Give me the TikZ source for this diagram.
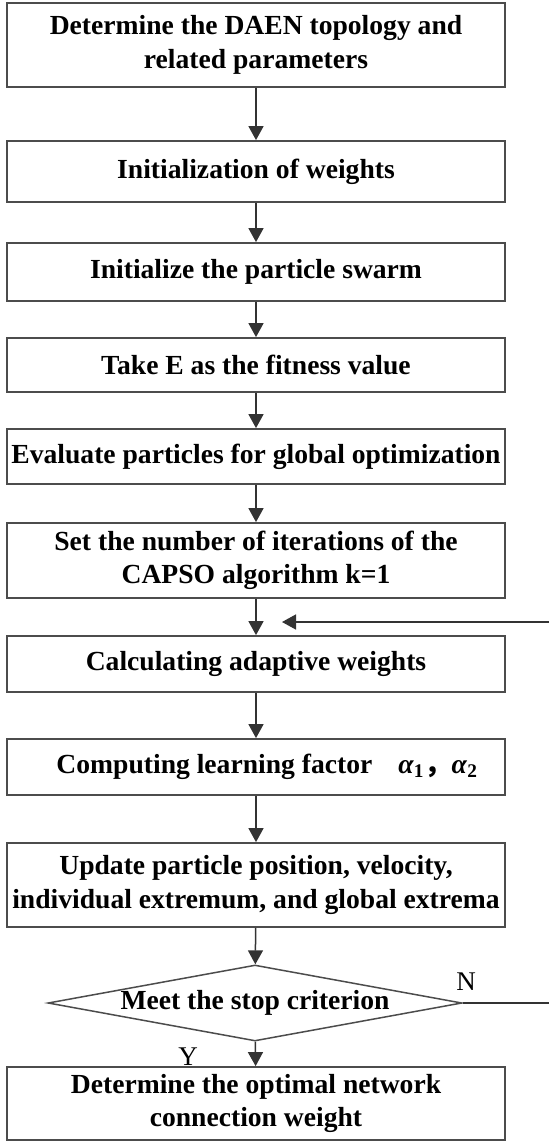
\documentclass[tikz,border=0pt]{standalone}
\usepackage{fontspec}
\setmainfont{Liberation Serif}
\newfontfamily\cjkfont{Noto Sans CJK SC}
\usetikzlibrary{arrows.meta,shapes.geometric}
\begin{document}
\begin{tikzpicture}[x=1pt,y=-1pt,
  font=\fontsize{27.6}{33.5}\selectfont\bfseries,
  stepbox/.style={draw=black!70,line width=1.8pt,minimum width=498pt,
    inner sep=0pt,align=center,fill=white},
  flow/.style={draw=black!80,line width=1.5pt,
    -{Triangle[length=14pt,width=15pt]}},
  lbl/.style={font=\fontsize{27}{27}\selectfont,inner sep=0pt}]
\useasboundingbox (0,0) rectangle (549,1142);

\node[stepbox,minimum height=84pt] (b1) at (256,45)
  {Determine the DAEN topology and\\related parameters};
\node[stepbox,minimum height=61pt] (b2) at (256,171.5)
  {Initialization of weights};
\node[stepbox,minimum height=58pt] (b3) at (256,272)
  {Initialize the particle swarm};
\node[stepbox,minimum height=54pt] (b4) at (256,365)
  {Take E as the fitness value};
\node[stepbox,minimum height=55pt] (b5) at (256,456.5)
  {Evaluate particles for global optimization};
\node[stepbox,minimum height=75pt] (b6) at (256,560.5)
  {Set the number of iterations of the\\CAPSO algorithm k=1};
\node[stepbox,minimum height=56pt] (b7) at (256,664)
  {Calculating adaptive weights};
\node[stepbox,minimum height=56pt] (b8) at (256,767)
  {\hspace*{22pt}Computing learning factor\hspace{26pt}%
   \textit{α}\textsubscript{1}{\cjkfont\bfseries ，}\textit{α}\textsubscript{2}};
\node[stepbox,minimum height=84pt] (b9) at (256,885)
  {Update particle position, velocity,\\individual extremum, and global extrema};
\node[draw=black!70,line width=1.5pt,shape=diamond,aspect=5.45,
  minimum width=414pt,minimum height=76pt,inner sep=0pt] (d) at (255,1003)
  {Meet the stop criterion};
\node[stepbox,minimum height=73pt] (b10) at (256,1103.5)
  {Determine the optimal network\\connection weight};

% main flow
\draw[flow] (b1) -- (b2);
\draw[flow] (b2) -- (b3);
\draw[flow] (b3) -- (b4);
\draw[flow] (b4) -- (b5);
\draw[flow] (b5) -- (b6);
\draw[flow] (b6) -- (b7);
\draw[flow] (b7) -- (b8);
\draw[flow] (b8) -- (b9);
\draw[flow] (b9) -- (d);
\draw[flow] (d) -- (b10);

% loop back when the criterion is not met
\coordinate (nout) at (549,1003);
\coordinate (nin) at (549,622);
\coordinate (ntip) at (282,622);
\draw[draw=black!80,line width=1.5pt] (d.east) -- (nout);
\draw[flow] (nin) -- (ntip);

\node[lbl] (nlab) at (466,982) {N};
\node[lbl] (ylab) at (188,1057) {Y};
\end{tikzpicture}
\end{document}
